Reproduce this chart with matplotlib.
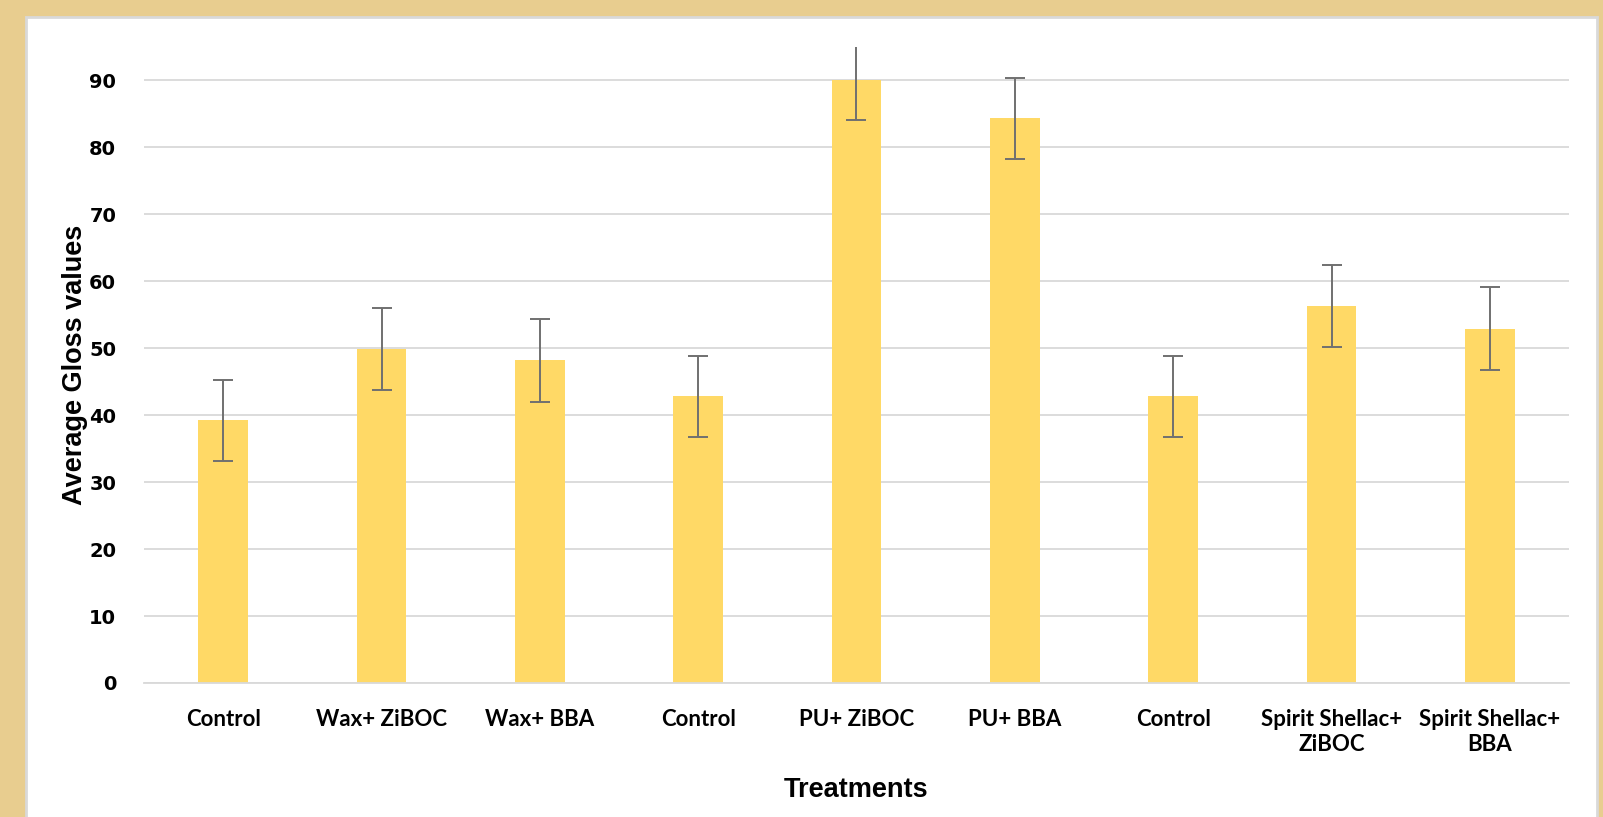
import matplotlib
matplotlib.use("Agg")
import matplotlib.pyplot as plt
from matplotlib.patches import Rectangle
import numpy as np

# data
treatments = ["Control", "Wax+ ZiBOC", "Wax+ BBA", "Control", "PU+ ZiBOC",
              "PU+ BBA", "Control", "Spirit Shellac+\nZiBOC", "Spirit Shellac+\nBBA"]
gloss_mean = [39.2, 49.9, 48.2, 42.8, 90.0, 84.3, 42.8, 56.3, 52.9]
gloss_err = [6.1, 6.1, 6.2, 6.1, 6.0, 6.1, 6.1, 6.1, 6.2]
y_ticks = [0, 10, 20, 30, 40, 50, 60, 70, 80, 90]

W, H = 1603, 817
fig = plt.figure(figsize=(W / 100, H / 100), dpi=100)
fig.patch.set_facecolor("#E8CD8F")

# white card on the parchment background
card = Rectangle((26 / W, -0.02), (1597 - 26) / W, 1 - 17 / H + 0.02,
                 transform=fig.transFigure, facecolor="white",
                 edgecolor="#D9D9D9", linewidth=2, zorder=-10)
fig.patches.append(card)

ax = fig.add_axes([144 / W, (H - 683) / H, (1569 - 144) / W, (683 - 46.8) / H])
ax.set_facecolor("none")
ax.set_zorder(5)

x = np.arange(len(treatments))
ax.bar(x, gloss_mean, width=0.315, color="#FFD966", zorder=2)
ax.errorbar(x, gloss_mean, yerr=gloss_err, fmt="none", ecolor="#707070",
            elinewidth=1.4, capsize=7, capthick=1.4, zorder=3)

ax.set_xlim(-0.5, len(treatments) - 0.5)
ax.set_ylim(0, 95)
ax.set_yticks(y_ticks)
ax.set_yticklabels([str(t) for t in y_ticks], fontsize=14, fontweight="bold",
                   family="DejaVu Sans")
ax.set_xticks(x)
ax.set_xticklabels(treatments, fontsize=16, fontweight="bold", family="Lato",
                   linespacing=1.2)
ax.tick_params(axis="both", length=0)
ax.tick_params(axis="y", pad=20)
ax.tick_params(axis="x", pad=19)

ax.yaxis.grid(True, color="#D9D9D9", linewidth=1.3, zorder=0)
ax.set_axisbelow(True)
for side in ["top", "right", "left"]:
    ax.spines[side].set_visible(False)
ax.spines["bottom"].set_color("#D9D9D9")
ax.spines["bottom"].set_linewidth(1.3)

ax.set_ylabel("Average Gloss values", fontsize=19.5, fontweight="bold",
              family="Liberation Sans", labelpad=1)
ax.set_xlabel("Treatments", fontsize=19.5, fontweight="bold",
              family="Liberation Sans", labelpad=16)

fig.savefig("out.png", dpi=100, facecolor=fig.get_facecolor())
